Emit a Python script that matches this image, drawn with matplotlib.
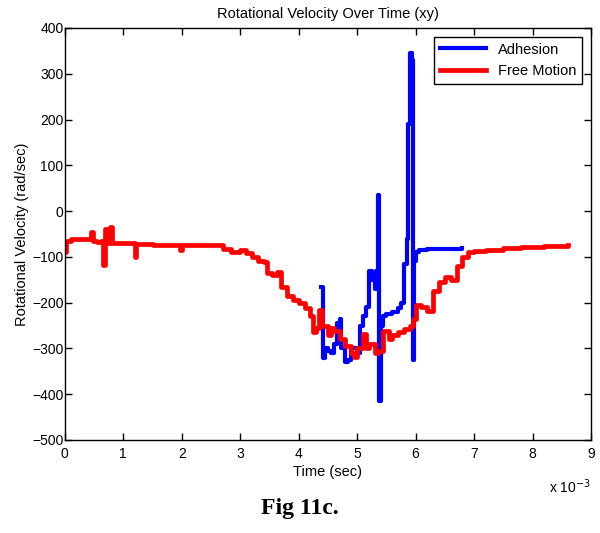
import matplotlib.pyplot as plt

plt.rcParams['font.family'] = ['Liberation Sans', 'DejaVu Sans']

# time in ms (axis shows x 10^-3 sec)
free_t = [0.00, 0.02, 0.10, 0.30, 0.40, 0.45, 0.48, 0.55, 0.62, 0.65, 0.68, 0.72,
          0.78, 0.80, 1.00, 1.18, 1.20, 1.22, 1.50, 1.97, 2.00, 2.60, 2.70, 2.85,
          3.00, 3.10, 3.20, 3.30, 3.40, 3.45, 3.55, 3.63, 3.70, 3.80, 3.90, 4.00,
          4.10, 4.20, 4.25, 4.30, 4.35, 4.40, 4.50, 4.55, 4.60, 4.70, 4.80, 4.90,
          4.95, 5.00, 5.10, 5.15, 5.20, 5.30, 5.35, 5.45, 5.55, 5.60, 5.70, 5.80,
          5.90, 5.95, 6.00, 6.10, 6.20, 6.30, 6.40, 6.50, 6.60, 6.70, 6.80, 6.90,
          7.00, 7.20, 7.50, 7.80, 8.20, 8.60]
free_v = [-90, -65, -62, -62, -60, -45, -65, -68, -65, -118, -40, -70,
          -35, -70, -70, -70, -100, -72, -73, -85, -75, -75, -82, -90,
          -85, -92, -100, -108, -112, -135, -140, -132, -165, -185, -195, -200,
          -212, -230, -265, -255, -215, -250, -270, -255, -262, -280, -295, -310,
          -318, -300, -268, -300, -290, -310, -305, -262, -280, -270, -265, -258,
          -252, -235, -205, -210, -218, -175, -155, -145, -150, -120, -100, -90,
          -88, -84, -80, -78, -76, -74]

adh_t = [4.38, 4.40, 4.42, 4.45, 4.50, 4.55, 4.60, 4.65, 4.70, 4.72, 4.80, 4.85,
         4.90, 4.95, 5.00, 5.05, 5.10, 5.15, 5.20, 5.25, 5.30, 5.33, 5.35, 5.37,
         5.40, 5.45, 5.50, 5.60, 5.70, 5.75, 5.80, 5.85, 5.87, 5.90, 5.93, 5.95,
         5.97, 6.00, 6.05, 6.20, 6.80]
adh_v = [-165, -165, -320, -300, -305, -310, -290, -245, -235, -300, -330, -325,
         -300, -300, -310, -250, -230, -210, -130, -150, -170, -130, 35, -415,
         -250, -230, -225, -220, -212, -200, -115, -60, 190, 345, 330, -325,
         -110, -90, -85, -82, -80]

fig = plt.figure(figsize=(6, 5.33), dpi=100)
ax = fig.add_axes([0.108, 0.1745, 0.877, 0.773])

ax.plot([t * 1e-3 for t in adh_t], adh_v, color='#0000ff', lw=3, drawstyle='steps-post', label='Adhesion')
ax.plot([t * 1e-3 for t in free_t], free_v, color='#ff0000', lw=3.4, drawstyle='steps-post', label='Free Motion')

ax.set_xlim(0, 9e-3)
ax.set_ylim(-500, 400)
ax.set_xticks([i * 1e-3 for i in range(10)])
ax.set_xticklabels([str(i) for i in range(10)])
ax.set_yticks(range(-500, 401, 100))
ax.tick_params(direction='in', top=True, right=True, labelsize=10, length=5, width=1)
ax.tick_params(axis='y', pad=1)
ax.tick_params(axis='x', pad=5)
for s in ax.spines.values():
    s.set_linewidth(1)

ax.set_title('Rotational Velocity Over Time (xy)', fontsize=10.5, pad=7)
ax.set_xlabel('Time (sec)', fontsize=10.5, labelpad=3)
ax.set_ylabel('Rotational Velocity (rad/sec)', fontsize=10.5, labelpad=2)
fig.text(0.985, 0.075, r'x 10$^{-3}$', fontsize=10, ha='right')

leg = ax.legend(loc='upper right', fontsize=10.5, fancybox=False, framealpha=1,
                edgecolor='black', borderaxespad=0.6, handlelength=3.2)
leg.get_frame().set_linewidth(1)

fig.text(0.5, 0.035, 'Fig 11c.', family='Liberation Serif', fontweight='bold', fontsize=17, ha='center')

plt.savefig('out.png', dpi=100)
